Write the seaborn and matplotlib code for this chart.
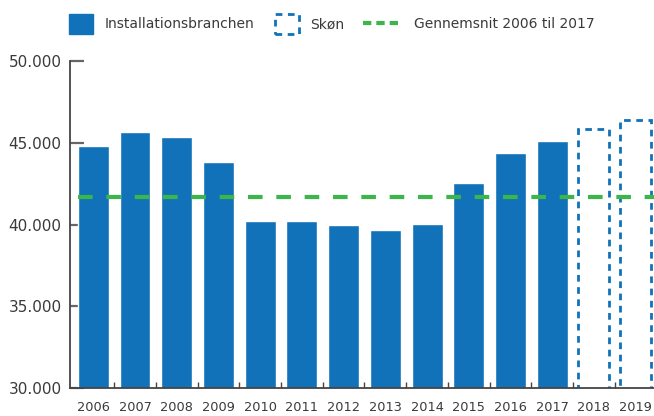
import matplotlib
matplotlib.use("Agg")
import matplotlib.pyplot as plt
import seaborn as sns
import pandas as pd
from matplotlib.patches import Patch
from matplotlib.lines import Line2D
from matplotlib.ticker import FuncFormatter, FixedLocator

# Employees in the installation industry, actual 2006-2017 and estimate 2018-2019
years = ["2006", "2007", "2008", "2009", "2010", "2011", "2012",
         "2013", "2014", "2015", "2016", "2017", "2018", "2019"]
actual_years = years[:12]
actual_values = [44800, 45650, 45350, 43820, 40210, 40210, 39960,
                 39650, 40020, 42530, 44370, 45100]
estimate_years = years[12:]
estimate_values = [45820, 46390]
average_2006_2017 = 41700

y_ticks = [30000, 35000, 40000, 45000, 50000]
legend_labels = ["Installationsbranchen", "Skøn", "Gennemsnit 2006 til 2017"]

BLUE = "#1172b9"
GREEN = "#3cb54a"
TEXT = "#3a3a3a"

sns.set_style("white")
plt.rcParams["font.family"] = ["DejaVu Sans"]

actual_df = pd.DataFrame({"year": actual_years, "value": actual_values})
estimate_df = pd.DataFrame({"year": estimate_years, "value": estimate_values})

fig = plt.figure(figsize=(6.54, 4.16), dpi=100)
ax = fig.add_axes([0.107, 0.067, 0.893, 0.786])

sns.barplot(data=actual_df, x="year", y="value", order=years, color=BLUE,
            width=0.74, saturation=1, ax=ax)
sns.barplot(data=estimate_df, x="year", y="value", order=years, color=BLUE,
            width=0.74, saturation=1, fill=False, linewidth=2,
            linestyle=(0, (2.4, 2.0)), ax=ax)

# Average line starts at the first bar and runs to the right edge
ax.axhline(average_2006_2017, xmin=0.014, xmax=1, color=GREEN, lw=3,
           linestyle=(0, (3.5, 3.3)), zorder=3)

ax.set_xlim(-0.56, 13.44)
ax.set_ylim(30000, 50000)
ax.set_xlabel("")
ax.set_ylabel("")
ax.set_yticks(y_ticks)
ax.yaxis.set_major_formatter(FuncFormatter(lambda v, p: f"{int(v):,}".replace(",", ".")))

for side in ["top", "right"]:
    ax.spines[side].set_visible(False)
for side in ["left", "bottom"]:
    ax.spines[side].set_color("#444444")
    ax.spines[side].set_linewidth(1.3)

ax.tick_params(axis="y", direction="in", length=10, width=1.6, color="#666666",
               pad=6, labelsize=11, labelcolor=TEXT, left=True)
ax.tick_params(axis="x", which="major", length=0, pad=9, labelsize=9.3, labelcolor=TEXT)
ax.xaxis.set_minor_locator(FixedLocator([i + 0.5 for i in range(len(years) - 1)]))
ax.tick_params(axis="x", which="minor", direction="in", length=4, width=1,
               color="#444444", bottom=True)

# Legend: three separate pieces so each handle keeps its own shape
common = dict(frameon=False, borderpad=0, borderaxespad=0, fontsize=10,
              labelcolor=TEXT, handletextpad=0.8, loc="center left")
fig.legend(handles=[Patch(facecolor=BLUE, edgecolor=BLUE)], labels=[legend_labels[0]],
           handlelength=1.75, handleheight=1.75,
           bbox_to_anchor=(69 / 654, 1 - 24 / 416), **common)
fig.legend(handles=[Patch(facecolor="none", edgecolor=BLUE, linewidth=2,
                          linestyle=(0, (2.4, 2.0)))], labels=[legend_labels[1]],
           handlelength=1.75, handleheight=1.75,
           bbox_to_anchor=(275 / 654, 1 - 24 / 416), **common)
fig.legend(handles=[Line2D([], [], color=GREEN, lw=3, linestyle=(0, (2.0, 1.2)))],
           labels=[legend_labels[2]], handlelength=2.9,
           bbox_to_anchor=(363 / 654, 1 - 24 / 416), **common)

fig.savefig("out.png", dpi=100)
